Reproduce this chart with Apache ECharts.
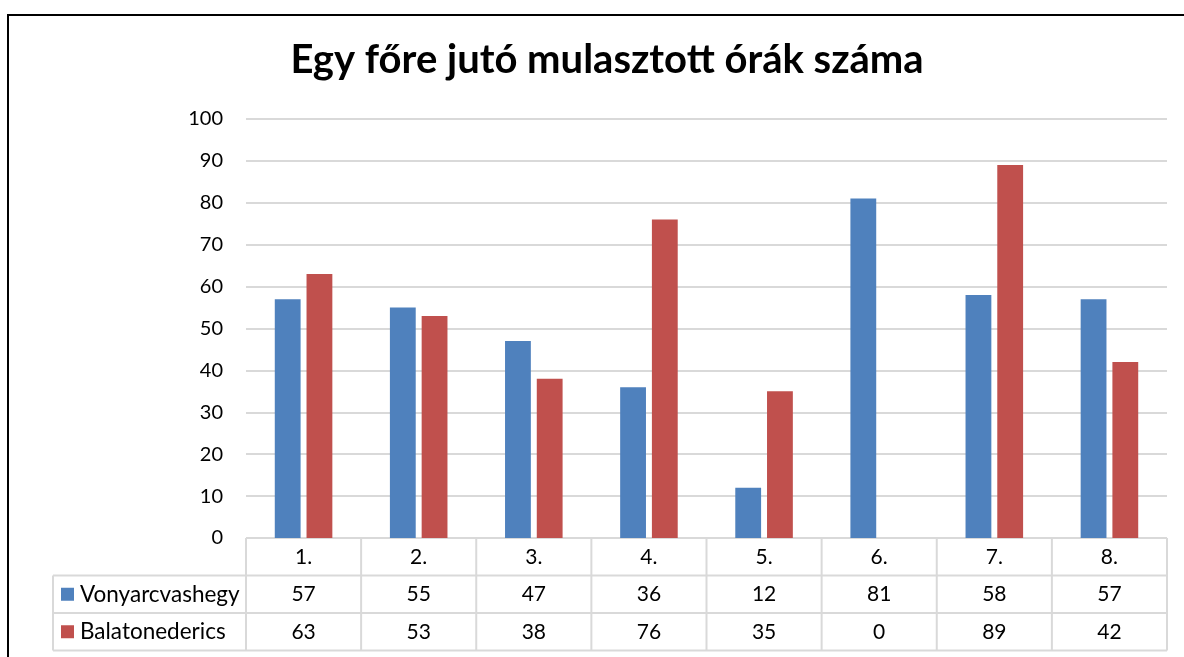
<!DOCTYPE html>
<html>
<head>
<meta charset="utf-8">
<script src="https://cdn.jsdelivr.net/npm/echarts@6/dist/echarts.min.js"></script>
<style>
  html, body { margin: 0; padding: 0; background: #fff; }
  #chart { width: 1184px; height: 657px; }
</style>
</head>
<body>
<div id="chart"></div>
<script>
// Data
const titleText = 'Egy főre jutó mulasztott órák száma';
const categories = ['1.', '2.', '3.', '4.', '5.', '6.', '7.', '8.'];
const seriesNames = ['Vonyarcvashegy', 'Balatonederics'];
const vonyarcvashegy = [57, 55, 47, 36, 12, 81, 58, 57];
const balatonederics = [63, 53, 38, 76, 35, 0, 89, 42];
const yTicks = [0, 10, 20, 30, 40, 50, 60, 70, 80, 90, 100];

// Layout / style
const W = 1184, H = 657;
const gridLeft = 246, gridRight = 17, gridTop = 119, gridBottom = 119;
const plotW = W - gridLeft - gridRight;
const plotBottom = H - gridBottom;
const rowH = 37.5;
const tableLeft = 53;
const colors = ['#4F81BD', '#C0504D'];
const lineColor = '#D9D9D9';
const font = 'Lato, "Open Sans", sans-serif';
const axisFontSize = 20;
const cellFontSize = 21;
const nameFontSize = 22.5;

const chart = echarts.init(document.getElementById('chart'), null, { renderer: 'canvas' });

// Data table below the plot: one category header row and a row per series
function tableGraphics() {
  const els = [];
  const colW = plotW / categories.length;
  const right = gridLeft + plotW;
  const line = (x1, y1, x2, y2) => ({
    type: 'line', silent: true,
    shape: { x1, y1, x2, y2 },
    style: { stroke: lineColor, lineWidth: 2 }
  });
  // horizontal rules
  els.push(line(gridLeft, plotBottom, right, plotBottom));
  for (let r = 1; r <= 3; r++) {
    els.push(line(tableLeft, plotBottom + r * rowH, right, plotBottom + r * rowH));
  }
  // vertical rules
  for (let i = 0; i <= categories.length; i++) {
    const x = gridLeft + i * colW;
    els.push(line(x, plotBottom, x, plotBottom + 3 * rowH));
  }
  els.push(line(tableLeft, plotBottom + rowH, tableLeft, plotBottom + 3 * rowH));

  const rows = [vonyarcvashegy, balatonederics];
  const cellText = (x, y, text, align, size) => ({
    type: 'text', silent: true, x, y,
    style: { text: String(text), fill: '#000', font: size + 'px ' + font,
             textAlign: align, textVerticalAlign: 'middle' }
  });
  categories.forEach((c, i) => {
    els.push(cellText(gridLeft + (i + 0.5) * colW, plotBottom + rowH / 2, c, 'center', cellFontSize));
  });
  rows.forEach((vals, r) => {
    const cy = plotBottom + (r + 1.5) * rowH;
    els.push({
      type: 'rect', silent: true,
      shape: { x: 61, y: cy - 6.5, width: 13, height: 13 },
      style: { fill: colors[r] }
    });
    els.push(cellText(80, cy, seriesNames[r], 'left', nameFontSize));
    vals.forEach((v, i) => {
      els.push(cellText(gridLeft + (i + 0.5) * colW, cy, v, 'center', cellFontSize));
    });
  });
  // outer chart frame
  els.push({
    type: 'rect', silent: true,
    shape: { x: 8, y: 15, width: W + 20, height: H + 20 },
    style: { fill: 'none', stroke: '#000', lineWidth: 2 }
  });
  return els;
}

const option = {
  animation: false,
  backgroundColor: '#fff',
  title: {
    text: titleText,
    left: 602,
    top: 35,
    textAlign: 'center',
    textStyle: { fontFamily: font, fontWeight: 'bold', fontSize: 40, color: '#000' }
  },
  grid: { left: gridLeft, right: gridRight, top: gridTop, bottom: gridBottom, containLabel: false },
  xAxis: {
    type: 'category',
    data: categories,
    axisLine: { show: false },
    axisTick: { show: false },
    axisLabel: { show: false }
  },
  yAxis: {
    type: 'value',
    min: yTicks[0],
    max: yTicks[yTicks.length - 1],
    interval: yTicks[1] - yTicks[0],
    axisLine: { show: false },
    axisTick: { show: false },
    axisLabel: { color: '#000', fontFamily: font, fontSize: axisFontSize, margin: 23 },
    splitLine: { lineStyle: { color: lineColor, width: 2 } }
  },
  series: [
    {
      name: seriesNames[0], type: 'bar', data: vonyarcvashegy,
      itemStyle: { color: colors[0] },
      barGap: '23%', barCategoryGap: '50%'
    },
    {
      name: seriesNames[1], type: 'bar', data: balatonederics,
      itemStyle: { color: colors[1] },
      barGap: '23%', barCategoryGap: '50%'
    }
  ],
  graphic: tableGraphics()
};

chart.setOption(option);
</script>
</body>
</html>
